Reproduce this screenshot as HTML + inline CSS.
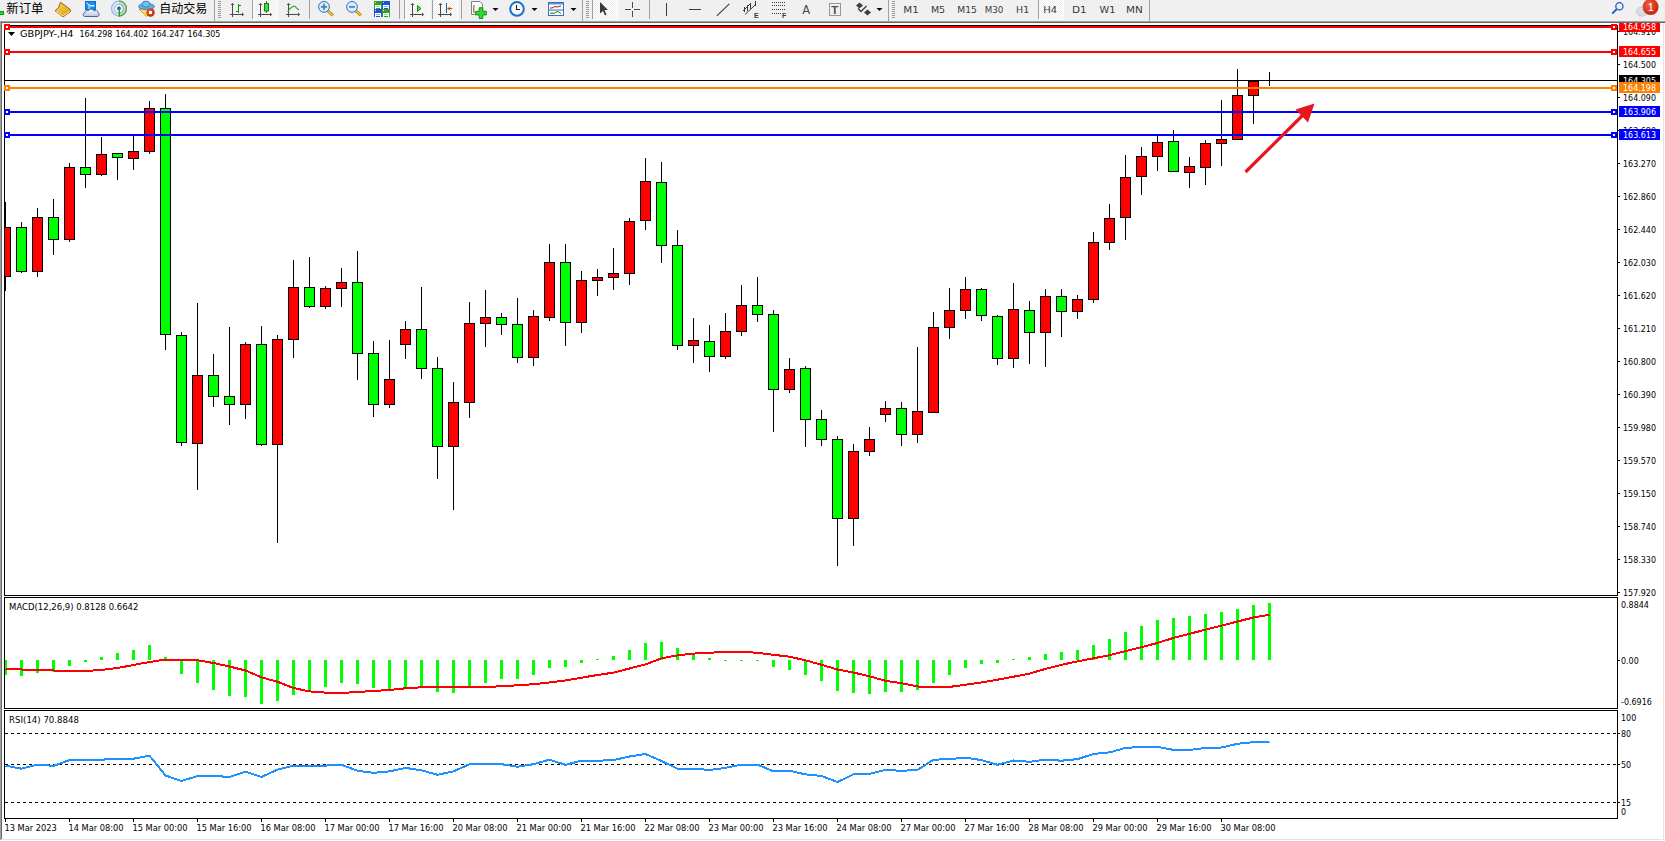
<!DOCTYPE html><html><head><meta charset="utf-8"><title>GBPJPY,H4</title><style>
html,body{margin:0;padding:0}
body{width:1665px;height:841px;overflow:hidden;background:#fff;position:relative;font-family:'Liberation Sans',Arial,sans-serif}
svg{position:absolute;left:0;top:0}
.t{font-family:'DejaVu Sans',sans-serif;font-size:9px;fill:#000}
#tb{position:absolute;left:0;top:0;width:1665px;height:21px;background:#f0f0f0}
</style></head><body>
<svg width="1665" height="841" viewBox="0 0 1665 841">
<defs><clipPath id="cm"><rect x="5" y="26" width="1612" height="569"/></clipPath><clipPath id="cmacd"><rect x="5" y="598" width="1612" height="110"/></clipPath><clipPath id="crsi"><rect x="5" y="711" width="1612" height="107"/></clipPath></defs>
<g shape-rendering="crispEdges">
<rect x="0" y="21" width="1665" height="1" fill="#a0a0a0"/>
<rect x="0" y="22" width="1665" height="1" fill="#696969"/>
<rect x="0" y="21" width="1" height="819" fill="#a0a0a0"/>
<rect x="1" y="22" width="1" height="818" fill="#696969"/>
<rect x="1663" y="23" width="1" height="817" fill="#e3e3e3"/>
<rect x="1" y="839" width="1663" height="1" fill="#e3e3e3"/>
</g>
<g clip-path="url(#cm)" shape-rendering="crispEdges">
<rect x="5" y="202" width="1" height="89" fill="#000"/>
<rect x="0" y="227" width="11" height="50" fill="#000"/>
<rect x="1" y="228" width="9" height="48" fill="#f00"/>
<rect x="21" y="222" width="1" height="51" fill="#000"/>
<rect x="16" y="227" width="11" height="45" fill="#000"/>
<rect x="17" y="228" width="9" height="43" fill="#0f0"/>
<rect x="37" y="208" width="1" height="69" fill="#000"/>
<rect x="32" y="217" width="11" height="55" fill="#000"/>
<rect x="33" y="218" width="9" height="53" fill="#f00"/>
<rect x="53" y="199" width="1" height="56" fill="#000"/>
<rect x="48" y="217" width="11" height="23" fill="#000"/>
<rect x="49" y="218" width="9" height="21" fill="#0f0"/>
<rect x="69" y="163" width="1" height="79" fill="#000"/>
<rect x="64" y="167" width="11" height="73" fill="#000"/>
<rect x="65" y="168" width="9" height="71" fill="#f00"/>
<rect x="85" y="98" width="1" height="90" fill="#000"/>
<rect x="80" y="167" width="11" height="8" fill="#000"/>
<rect x="81" y="168" width="9" height="6" fill="#0f0"/>
<rect x="101" y="137" width="1" height="39" fill="#000"/>
<rect x="96" y="154" width="11" height="21" fill="#000"/>
<rect x="97" y="155" width="9" height="19" fill="#f00"/>
<rect x="117" y="153" width="1" height="27" fill="#000"/>
<rect x="112" y="153" width="11" height="5" fill="#000"/>
<rect x="113" y="154" width="9" height="3" fill="#0f0"/>
<rect x="133" y="135" width="1" height="35" fill="#000"/>
<rect x="128" y="151" width="11" height="8" fill="#000"/>
<rect x="129" y="152" width="9" height="6" fill="#f00"/>
<rect x="149" y="101" width="1" height="53" fill="#000"/>
<rect x="144" y="108" width="11" height="44" fill="#000"/>
<rect x="145" y="109" width="9" height="42" fill="#f00"/>
<rect x="165" y="94" width="1" height="256" fill="#000"/>
<rect x="160" y="108" width="11" height="227" fill="#000"/>
<rect x="161" y="109" width="9" height="225" fill="#0f0"/>
<rect x="181" y="332" width="1" height="114" fill="#000"/>
<rect x="176" y="335" width="11" height="108" fill="#000"/>
<rect x="177" y="336" width="9" height="106" fill="#0f0"/>
<rect x="197" y="303" width="1" height="187" fill="#000"/>
<rect x="192" y="375" width="11" height="69" fill="#000"/>
<rect x="193" y="376" width="9" height="67" fill="#f00"/>
<rect x="213" y="354" width="1" height="53" fill="#000"/>
<rect x="208" y="375" width="11" height="22" fill="#000"/>
<rect x="209" y="376" width="9" height="20" fill="#0f0"/>
<rect x="229" y="327" width="1" height="98" fill="#000"/>
<rect x="224" y="396" width="11" height="9" fill="#000"/>
<rect x="225" y="397" width="9" height="7" fill="#0f0"/>
<rect x="245" y="342" width="1" height="77" fill="#000"/>
<rect x="240" y="344" width="11" height="61" fill="#000"/>
<rect x="241" y="345" width="9" height="59" fill="#f00"/>
<rect x="261" y="326" width="1" height="120" fill="#000"/>
<rect x="256" y="344" width="11" height="101" fill="#000"/>
<rect x="257" y="345" width="9" height="99" fill="#0f0"/>
<rect x="277" y="335" width="1" height="208" fill="#000"/>
<rect x="272" y="339" width="11" height="106" fill="#000"/>
<rect x="273" y="340" width="9" height="104" fill="#f00"/>
<rect x="293" y="260" width="1" height="98" fill="#000"/>
<rect x="288" y="287" width="11" height="53" fill="#000"/>
<rect x="289" y="288" width="9" height="51" fill="#f00"/>
<rect x="309" y="257" width="1" height="51" fill="#000"/>
<rect x="304" y="287" width="11" height="20" fill="#000"/>
<rect x="305" y="288" width="9" height="18" fill="#0f0"/>
<rect x="325" y="286" width="1" height="23" fill="#000"/>
<rect x="320" y="288" width="11" height="19" fill="#000"/>
<rect x="321" y="289" width="9" height="17" fill="#f00"/>
<rect x="341" y="268" width="1" height="39" fill="#000"/>
<rect x="336" y="282" width="11" height="7" fill="#000"/>
<rect x="337" y="283" width="9" height="5" fill="#f00"/>
<rect x="357" y="251" width="1" height="129" fill="#000"/>
<rect x="352" y="282" width="11" height="72" fill="#000"/>
<rect x="353" y="283" width="9" height="70" fill="#0f0"/>
<rect x="373" y="341" width="1" height="76" fill="#000"/>
<rect x="368" y="353" width="11" height="52" fill="#000"/>
<rect x="369" y="354" width="9" height="50" fill="#0f0"/>
<rect x="389" y="340" width="1" height="68" fill="#000"/>
<rect x="384" y="379" width="11" height="26" fill="#000"/>
<rect x="385" y="380" width="9" height="24" fill="#f00"/>
<rect x="405" y="321" width="1" height="38" fill="#000"/>
<rect x="400" y="329" width="11" height="16" fill="#000"/>
<rect x="401" y="330" width="9" height="14" fill="#f00"/>
<rect x="421" y="287" width="1" height="92" fill="#000"/>
<rect x="416" y="329" width="11" height="40" fill="#000"/>
<rect x="417" y="330" width="9" height="38" fill="#0f0"/>
<rect x="437" y="357" width="1" height="122" fill="#000"/>
<rect x="432" y="368" width="11" height="79" fill="#000"/>
<rect x="433" y="369" width="9" height="77" fill="#0f0"/>
<rect x="453" y="382" width="1" height="128" fill="#000"/>
<rect x="448" y="402" width="11" height="45" fill="#000"/>
<rect x="449" y="403" width="9" height="43" fill="#f00"/>
<rect x="469" y="302" width="1" height="116" fill="#000"/>
<rect x="464" y="323" width="11" height="80" fill="#000"/>
<rect x="465" y="324" width="9" height="78" fill="#f00"/>
<rect x="485" y="290" width="1" height="57" fill="#000"/>
<rect x="480" y="317" width="11" height="7" fill="#000"/>
<rect x="481" y="318" width="9" height="5" fill="#f00"/>
<rect x="501" y="313" width="1" height="22" fill="#000"/>
<rect x="496" y="317" width="11" height="8" fill="#000"/>
<rect x="497" y="318" width="9" height="6" fill="#0f0"/>
<rect x="517" y="298" width="1" height="65" fill="#000"/>
<rect x="512" y="324" width="11" height="34" fill="#000"/>
<rect x="513" y="325" width="9" height="32" fill="#0f0"/>
<rect x="533" y="310" width="1" height="56" fill="#000"/>
<rect x="528" y="316" width="11" height="42" fill="#000"/>
<rect x="529" y="317" width="9" height="40" fill="#f00"/>
<rect x="549" y="244" width="1" height="77" fill="#000"/>
<rect x="544" y="262" width="11" height="56" fill="#000"/>
<rect x="545" y="263" width="9" height="54" fill="#f00"/>
<rect x="565" y="244" width="1" height="102" fill="#000"/>
<rect x="560" y="262" width="11" height="61" fill="#000"/>
<rect x="561" y="263" width="9" height="59" fill="#0f0"/>
<rect x="581" y="271" width="1" height="62" fill="#000"/>
<rect x="576" y="280" width="11" height="43" fill="#000"/>
<rect x="577" y="281" width="9" height="41" fill="#f00"/>
<rect x="597" y="269" width="1" height="27" fill="#000"/>
<rect x="592" y="277" width="11" height="4" fill="#000"/>
<rect x="593" y="278" width="9" height="2" fill="#f00"/>
<rect x="613" y="248" width="1" height="42" fill="#000"/>
<rect x="608" y="273" width="11" height="5" fill="#000"/>
<rect x="609" y="274" width="9" height="3" fill="#f00"/>
<rect x="629" y="218" width="1" height="67" fill="#000"/>
<rect x="624" y="221" width="11" height="53" fill="#000"/>
<rect x="625" y="222" width="9" height="51" fill="#f00"/>
<rect x="645" y="158" width="1" height="72" fill="#000"/>
<rect x="640" y="181" width="11" height="40" fill="#000"/>
<rect x="641" y="182" width="9" height="38" fill="#f00"/>
<rect x="661" y="162" width="1" height="101" fill="#000"/>
<rect x="656" y="182" width="11" height="64" fill="#000"/>
<rect x="657" y="183" width="9" height="62" fill="#0f0"/>
<rect x="677" y="230" width="1" height="120" fill="#000"/>
<rect x="672" y="245" width="11" height="101" fill="#000"/>
<rect x="673" y="246" width="9" height="99" fill="#0f0"/>
<rect x="693" y="318" width="1" height="45" fill="#000"/>
<rect x="688" y="340" width="11" height="6" fill="#000"/>
<rect x="689" y="341" width="9" height="4" fill="#f00"/>
<rect x="709" y="325" width="1" height="47" fill="#000"/>
<rect x="704" y="341" width="11" height="16" fill="#000"/>
<rect x="705" y="342" width="9" height="14" fill="#0f0"/>
<rect x="725" y="313" width="1" height="46" fill="#000"/>
<rect x="720" y="331" width="11" height="26" fill="#000"/>
<rect x="721" y="332" width="9" height="24" fill="#f00"/>
<rect x="741" y="285" width="1" height="51" fill="#000"/>
<rect x="736" y="305" width="11" height="27" fill="#000"/>
<rect x="737" y="306" width="9" height="25" fill="#f00"/>
<rect x="757" y="277" width="1" height="45" fill="#000"/>
<rect x="752" y="305" width="11" height="10" fill="#000"/>
<rect x="753" y="306" width="9" height="8" fill="#0f0"/>
<rect x="773" y="310" width="1" height="122" fill="#000"/>
<rect x="768" y="314" width="11" height="76" fill="#000"/>
<rect x="769" y="315" width="9" height="74" fill="#0f0"/>
<rect x="789" y="358" width="1" height="35" fill="#000"/>
<rect x="784" y="369" width="11" height="21" fill="#000"/>
<rect x="785" y="370" width="9" height="19" fill="#f00"/>
<rect x="805" y="366" width="1" height="81" fill="#000"/>
<rect x="800" y="368" width="11" height="52" fill="#000"/>
<rect x="801" y="369" width="9" height="50" fill="#0f0"/>
<rect x="821" y="410" width="1" height="36" fill="#000"/>
<rect x="816" y="419" width="11" height="21" fill="#000"/>
<rect x="817" y="420" width="9" height="19" fill="#0f0"/>
<rect x="837" y="436" width="1" height="130" fill="#000"/>
<rect x="832" y="439" width="11" height="80" fill="#000"/>
<rect x="833" y="440" width="9" height="78" fill="#0f0"/>
<rect x="853" y="444" width="1" height="102" fill="#000"/>
<rect x="848" y="451" width="11" height="68" fill="#000"/>
<rect x="849" y="452" width="9" height="66" fill="#f00"/>
<rect x="869" y="427" width="1" height="29" fill="#000"/>
<rect x="864" y="439" width="11" height="13" fill="#000"/>
<rect x="865" y="440" width="9" height="11" fill="#f00"/>
<rect x="885" y="401" width="1" height="21" fill="#000"/>
<rect x="880" y="408" width="11" height="7" fill="#000"/>
<rect x="881" y="409" width="9" height="5" fill="#f00"/>
<rect x="901" y="402" width="1" height="44" fill="#000"/>
<rect x="896" y="408" width="11" height="27" fill="#000"/>
<rect x="897" y="409" width="9" height="25" fill="#0f0"/>
<rect x="917" y="347" width="1" height="96" fill="#000"/>
<rect x="912" y="411" width="11" height="24" fill="#000"/>
<rect x="913" y="412" width="9" height="22" fill="#f00"/>
<rect x="933" y="312" width="1" height="101" fill="#000"/>
<rect x="928" y="327" width="11" height="86" fill="#000"/>
<rect x="929" y="328" width="9" height="84" fill="#f00"/>
<rect x="949" y="288" width="1" height="51" fill="#000"/>
<rect x="944" y="310" width="11" height="18" fill="#000"/>
<rect x="945" y="311" width="9" height="16" fill="#f00"/>
<rect x="965" y="277" width="1" height="42" fill="#000"/>
<rect x="960" y="289" width="11" height="22" fill="#000"/>
<rect x="961" y="290" width="9" height="20" fill="#f00"/>
<rect x="981" y="288" width="1" height="33" fill="#000"/>
<rect x="976" y="289" width="11" height="27" fill="#000"/>
<rect x="977" y="290" width="9" height="25" fill="#0f0"/>
<rect x="997" y="315" width="1" height="50" fill="#000"/>
<rect x="992" y="316" width="11" height="43" fill="#000"/>
<rect x="993" y="317" width="9" height="41" fill="#0f0"/>
<rect x="1013" y="283" width="1" height="85" fill="#000"/>
<rect x="1008" y="309" width="11" height="50" fill="#000"/>
<rect x="1009" y="310" width="9" height="48" fill="#f00"/>
<rect x="1029" y="301" width="1" height="63" fill="#000"/>
<rect x="1024" y="310" width="11" height="23" fill="#000"/>
<rect x="1025" y="311" width="9" height="21" fill="#0f0"/>
<rect x="1045" y="289" width="1" height="78" fill="#000"/>
<rect x="1040" y="296" width="11" height="37" fill="#000"/>
<rect x="1041" y="297" width="9" height="35" fill="#f00"/>
<rect x="1061" y="289" width="1" height="48" fill="#000"/>
<rect x="1056" y="296" width="11" height="16" fill="#000"/>
<rect x="1057" y="297" width="9" height="14" fill="#0f0"/>
<rect x="1077" y="295" width="1" height="24" fill="#000"/>
<rect x="1072" y="299" width="11" height="13" fill="#000"/>
<rect x="1073" y="300" width="9" height="11" fill="#f00"/>
<rect x="1093" y="232" width="1" height="71" fill="#000"/>
<rect x="1088" y="242" width="11" height="58" fill="#000"/>
<rect x="1089" y="243" width="9" height="56" fill="#f00"/>
<rect x="1109" y="204" width="1" height="46" fill="#000"/>
<rect x="1104" y="218" width="11" height="25" fill="#000"/>
<rect x="1105" y="219" width="9" height="23" fill="#f00"/>
<rect x="1125" y="155" width="1" height="85" fill="#000"/>
<rect x="1120" y="177" width="11" height="41" fill="#000"/>
<rect x="1121" y="178" width="9" height="39" fill="#f00"/>
<rect x="1141" y="147" width="1" height="48" fill="#000"/>
<rect x="1136" y="156" width="11" height="21" fill="#000"/>
<rect x="1137" y="157" width="9" height="19" fill="#f00"/>
<rect x="1157" y="136" width="1" height="35" fill="#000"/>
<rect x="1152" y="142" width="11" height="15" fill="#000"/>
<rect x="1153" y="143" width="9" height="13" fill="#f00"/>
<rect x="1173" y="130" width="1" height="42" fill="#000"/>
<rect x="1168" y="141" width="11" height="31" fill="#000"/>
<rect x="1169" y="142" width="9" height="29" fill="#0f0"/>
<rect x="1189" y="157" width="1" height="31" fill="#000"/>
<rect x="1184" y="166" width="11" height="7" fill="#000"/>
<rect x="1185" y="167" width="9" height="5" fill="#f00"/>
<rect x="1205" y="140" width="1" height="45" fill="#000"/>
<rect x="1200" y="143" width="11" height="25" fill="#000"/>
<rect x="1201" y="144" width="9" height="23" fill="#f00"/>
<rect x="1221" y="100" width="1" height="66" fill="#000"/>
<rect x="1216" y="139" width="11" height="5" fill="#000"/>
<rect x="1217" y="140" width="9" height="3" fill="#f00"/>
<rect x="1237" y="69" width="1" height="71" fill="#000"/>
<rect x="1232" y="95" width="11" height="45" fill="#000"/>
<rect x="1233" y="96" width="9" height="43" fill="#f00"/>
<rect x="1253" y="81" width="1" height="43" fill="#000"/>
<rect x="1248" y="81" width="11" height="15" fill="#000"/>
<rect x="1249" y="82" width="9" height="13" fill="#f00"/>
<rect x="1269" y="72" width="1" height="14" fill="#000"/>
<rect x="1264" y="80" width="11" height="1" fill="#000"/>
</g>
<g shape-rendering="crispEdges">
<rect x="5" y="80" width="1612" height="1" fill="#000"/>
<rect x="5" y="26" width="1612" height="2" fill="#f00"/>
<rect x="5" y="51" width="1612" height="2" fill="#f00"/>
<rect x="5" y="87" width="1612" height="2" fill="#ff8000"/>
<rect x="5" y="111" width="1612" height="2" fill="#00f"/>
<rect x="5" y="134" width="1612" height="2" fill="#00f"/>
</g>
<g fill="#e8141e" stroke="none">
<line x1="1245.5" y1="172" x2="1304" y2="114" stroke="#e8141e" stroke-width="3.2"/>
<polygon points="1295.5,109.5 1314.5,103.5 1308,122.5"/>
</g>
<g clip-path="url(#cmacd)" shape-rendering="crispEdges">
<rect x="4" y="660" width="3" height="15" fill="#0f0"/>
<rect x="20" y="660" width="3" height="16" fill="#0f0"/>
<rect x="36" y="660" width="3" height="13" fill="#0f0"/>
<rect x="52" y="660" width="3" height="12" fill="#0f0"/>
<rect x="68" y="660" width="3" height="6" fill="#0f0"/>
<rect x="84" y="660" width="3" height="2" fill="#0f0"/>
<rect x="100" y="657" width="3" height="3" fill="#0f0"/>
<rect x="116" y="653" width="3" height="7" fill="#0f0"/>
<rect x="132" y="650" width="3" height="10" fill="#0f0"/>
<rect x="148" y="645" width="3" height="15" fill="#0f0"/>
<rect x="164" y="657" width="3" height="3" fill="#0f0"/>
<rect x="180" y="660" width="3" height="14" fill="#0f0"/>
<rect x="196" y="660" width="3" height="23" fill="#0f0"/>
<rect x="212" y="660" width="3" height="30" fill="#0f0"/>
<rect x="228" y="660" width="3" height="36" fill="#0f0"/>
<rect x="244" y="660" width="3" height="37" fill="#0f0"/>
<rect x="260" y="660" width="3" height="44" fill="#0f0"/>
<rect x="276" y="660" width="3" height="41" fill="#0f0"/>
<rect x="292" y="660" width="3" height="35" fill="#0f0"/>
<rect x="308" y="660" width="3" height="32" fill="#0f0"/>
<rect x="324" y="660" width="3" height="27" fill="#0f0"/>
<rect x="340" y="660" width="3" height="23" fill="#0f0"/>
<rect x="356" y="660" width="3" height="24" fill="#0f0"/>
<rect x="372" y="660" width="3" height="28" fill="#0f0"/>
<rect x="388" y="660" width="3" height="29" fill="#0f0"/>
<rect x="404" y="660" width="3" height="27" fill="#0f0"/>
<rect x="420" y="660" width="3" height="27" fill="#0f0"/>
<rect x="436" y="660" width="3" height="32" fill="#0f0"/>
<rect x="452" y="660" width="3" height="33" fill="#0f0"/>
<rect x="468" y="660" width="3" height="26" fill="#0f0"/>
<rect x="484" y="660" width="3" height="23" fill="#0f0"/>
<rect x="500" y="660" width="3" height="19" fill="#0f0"/>
<rect x="516" y="660" width="3" height="19" fill="#0f0"/>
<rect x="532" y="660" width="3" height="15" fill="#0f0"/>
<rect x="548" y="660" width="3" height="8" fill="#0f0"/>
<rect x="564" y="660" width="3" height="7" fill="#0f0"/>
<rect x="580" y="660" width="3" height="3" fill="#0f0"/>
<rect x="596" y="659" width="3" height="1" fill="#0f0"/>
<rect x="612" y="656" width="3" height="4" fill="#0f0"/>
<rect x="628" y="650" width="3" height="10" fill="#0f0"/>
<rect x="644" y="643" width="3" height="17" fill="#0f0"/>
<rect x="660" y="642" width="3" height="18" fill="#0f0"/>
<rect x="676" y="648" width="3" height="12" fill="#0f0"/>
<rect x="692" y="653" width="3" height="7" fill="#0f0"/>
<rect x="708" y="658" width="3" height="2" fill="#0f0"/>
<rect x="724" y="660" width="3" height="1" fill="#0f0"/>
<rect x="740" y="660" width="3" height="1" fill="#0f0"/>
<rect x="756" y="660" width="3" height="1" fill="#0f0"/>
<rect x="772" y="660" width="3" height="7" fill="#0f0"/>
<rect x="788" y="660" width="3" height="10" fill="#0f0"/>
<rect x="804" y="660" width="3" height="15" fill="#0f0"/>
<rect x="820" y="660" width="3" height="21" fill="#0f0"/>
<rect x="836" y="660" width="3" height="31" fill="#0f0"/>
<rect x="852" y="660" width="3" height="33" fill="#0f0"/>
<rect x="868" y="660" width="3" height="34" fill="#0f0"/>
<rect x="884" y="660" width="3" height="32" fill="#0f0"/>
<rect x="900" y="660" width="3" height="32" fill="#0f0"/>
<rect x="916" y="660" width="3" height="30" fill="#0f0"/>
<rect x="932" y="660" width="3" height="23" fill="#0f0"/>
<rect x="948" y="660" width="3" height="15" fill="#0f0"/>
<rect x="964" y="660" width="3" height="8" fill="#0f0"/>
<rect x="980" y="660" width="3" height="4" fill="#0f0"/>
<rect x="996" y="660" width="3" height="3" fill="#0f0"/>
<rect x="1012" y="659" width="3" height="1" fill="#0f0"/>
<rect x="1028" y="657" width="3" height="3" fill="#0f0"/>
<rect x="1044" y="654" width="3" height="6" fill="#0f0"/>
<rect x="1060" y="652" width="3" height="8" fill="#0f0"/>
<rect x="1076" y="650" width="3" height="10" fill="#0f0"/>
<rect x="1092" y="645" width="3" height="15" fill="#0f0"/>
<rect x="1108" y="639" width="3" height="21" fill="#0f0"/>
<rect x="1124" y="632" width="3" height="28" fill="#0f0"/>
<rect x="1140" y="626" width="3" height="34" fill="#0f0"/>
<rect x="1156" y="620" width="3" height="40" fill="#0f0"/>
<rect x="1172" y="618" width="3" height="42" fill="#0f0"/>
<rect x="1188" y="616" width="3" height="44" fill="#0f0"/>
<rect x="1204" y="614" width="3" height="46" fill="#0f0"/>
<rect x="1220" y="612" width="3" height="48" fill="#0f0"/>
<rect x="1236" y="609" width="3" height="51" fill="#0f0"/>
<rect x="1252" y="605" width="3" height="55" fill="#0f0"/>
<rect x="1268" y="603" width="3" height="57" fill="#0f0"/>
<polyline points="5.5,669 21.5,669.5 37.5,670 53.5,670.5 69.5,671 85.5,671 101.5,670 117.5,668 133.5,665 149.5,662 165.5,659.5 181.5,659.5 197.5,660.3 213.5,663 229.5,666.5 245.5,670.5 261.5,677.3 277.5,681.8 293.5,688 309.5,691.4 325.5,692.6 341.5,693 357.5,692 373.5,691 389.5,690 405.5,688.3 421.5,687.3 437.5,686.9 453.5,686.9 469.5,686.9 485.5,686.9 501.5,686.3 517.5,685.3 533.5,684.2 549.5,682.4 565.5,680.4 581.5,677.7 597.5,675 613.5,672.6 629.5,668.5 645.5,664.4 661.5,658.3 677.5,655.4 693.5,653.6 709.5,652.8 725.5,651.8 741.5,651.8 757.5,652.8 773.5,654.8 789.5,656.7 805.5,660.3 821.5,664.8 837.5,669.5 853.5,672.6 869.5,676.3 885.5,680.8 901.5,683.2 917.5,686.5 933.5,686.9 949.5,686.9 965.5,684.8 981.5,682.4 997.5,679.7 1013.5,676.7 1029.5,673.6 1045.5,668.9 1061.5,664.8 1077.5,661.4 1093.5,658.3 1109.5,655.2 1125.5,651.2 1141.5,647.1 1157.5,643 1173.5,637.9 1189.5,633.8 1205.5,629.7 1221.5,625.6 1237.5,621.5 1253.5,617.5 1269.5,614.8" fill="none" stroke="#f00" stroke-width="2"/>
</g>
<g shape-rendering="crispEdges">
<line x1="5" y1="733.5" x2="1617" y2="733.5" stroke="#000" stroke-width="1" stroke-dasharray="3,3"/>
<line x1="5" y1="764.5" x2="1617" y2="764.5" stroke="#000" stroke-width="1" stroke-dasharray="3,3"/>
<line x1="5" y1="802.5" x2="1617" y2="802.5" stroke="#000" stroke-width="1" stroke-dasharray="3,3"/>
</g>
<g clip-path="url(#crsi)"><polyline points="5.5,765.6 21.5,768.7 37.5,764.6 53.5,765.9 69.5,760.1 85.5,759.7 101.5,759.7 117.5,758.7 133.5,758.7 149.5,755.6 165.5,775.5 181.5,781 197.5,776 213.5,776 229.5,776.9 245.5,771.8 261.5,776.9 277.5,769.7 293.5,765.6 309.5,765.6 325.5,765.6 341.5,764.8 357.5,770.8 373.5,772.8 389.5,771.4 405.5,767.9 421.5,770.3 437.5,774.8 453.5,771.4 469.5,764.2 485.5,764.2 501.5,764.2 517.5,766.7 533.5,764.2 549.5,759.7 565.5,764.8 581.5,760.7 597.5,760.7 613.5,760.1 629.5,756.5 645.5,754 661.5,761 677.5,768.7 693.5,768.7 709.5,769.9 725.5,767.9 741.5,764.6 757.5,764.6 773.5,771.4 789.5,770.8 805.5,774.4 821.5,776 837.5,782 853.5,774.4 869.5,773.8 885.5,769.9 901.5,770.8 917.5,769.9 933.5,759.7 949.5,759.1 965.5,757.7 981.5,760.1 997.5,764.8 1013.5,760.5 1029.5,761.8 1045.5,759.7 1061.5,760.7 1077.5,759.1 1093.5,754 1109.5,752.4 1125.5,747.9 1141.5,746.9 1157.5,746.9 1173.5,749.9 1189.5,749.9 1205.5,747.9 1221.5,747.5 1237.5,743.8 1253.5,742.2 1269.5,741.8" fill="none" stroke="#1e90ff" stroke-width="2" shape-rendering="crispEdges"/></g>
<g shape-rendering="crispEdges" fill="#000">
<rect x="4" y="25" width="1614" height="1"/>
<rect x="4" y="25" width="1" height="571"/>
<rect x="4" y="595" width="1614" height="1"/>
<rect x="1617" y="25" width="1" height="571"/>
<rect x="4" y="597" width="1614" height="1"/>
<rect x="4" y="597" width="1" height="112"/>
<rect x="4" y="708" width="1614" height="1"/>
<rect x="1617" y="597" width="1" height="112"/>
<rect x="4" y="710" width="1614" height="1"/>
<rect x="4" y="710" width="1" height="109"/>
<rect x="4" y="818" width="1614" height="1"/>
<rect x="1617" y="710" width="1" height="109"/>
</g>
<g shape-rendering="crispEdges">
<rect x="4" y="24" width="6" height="6" fill="#f00"/>
<rect x="6" y="26" width="2" height="2" fill="#fff"/>
<rect x="1611" y="24" width="6" height="6" fill="#f00"/>
<rect x="1613" y="26" width="2" height="2" fill="#fff"/>
<rect x="4" y="49" width="6" height="6" fill="#f00"/>
<rect x="6" y="51" width="2" height="2" fill="#fff"/>
<rect x="1611" y="49" width="6" height="6" fill="#f00"/>
<rect x="1613" y="51" width="2" height="2" fill="#fff"/>
<rect x="4" y="85" width="6" height="6" fill="#ff8000"/>
<rect x="6" y="87" width="2" height="2" fill="#fff"/>
<rect x="1611" y="85" width="6" height="6" fill="#ff8000"/>
<rect x="1613" y="87" width="2" height="2" fill="#fff"/>
<rect x="4" y="109" width="6" height="6" fill="#00f"/>
<rect x="6" y="111" width="2" height="2" fill="#fff"/>
<rect x="1611" y="109" width="6" height="6" fill="#00f"/>
<rect x="1613" y="111" width="2" height="2" fill="#fff"/>
<rect x="4" y="132" width="6" height="6" fill="#00f"/>
<rect x="6" y="134" width="2" height="2" fill="#fff"/>
<rect x="1611" y="132" width="6" height="6" fill="#00f"/>
<rect x="1613" y="134" width="2" height="2" fill="#fff"/>
</g>
<g shape-rendering="crispEdges" fill="#000">
<rect x="1618" y="31" width="2" height="1"/>
<rect x="1618" y="64" width="2" height="1"/>
<rect x="1618" y="97" width="2" height="1"/>
<rect x="1618" y="130" width="2" height="1"/>
<rect x="1618" y="163" width="2" height="1"/>
<rect x="1618" y="196" width="2" height="1"/>
<rect x="1618" y="229" width="2" height="1"/>
<rect x="1618" y="262" width="2" height="1"/>
<rect x="1618" y="295" width="2" height="1"/>
<rect x="1618" y="328" width="2" height="1"/>
<rect x="1618" y="361" width="2" height="1"/>
<rect x="1618" y="394" width="2" height="1"/>
<rect x="1618" y="427" width="2" height="1"/>
<rect x="1618" y="460" width="2" height="1"/>
<rect x="1618" y="493" width="2" height="1"/>
<rect x="1618" y="526" width="2" height="1"/>
<rect x="1618" y="559" width="2" height="1"/>
<rect x="1618" y="592" width="2" height="1"/>
</g>
<text class="t" transform="translate(1623.00,35.00) scale(0.84,1)" style="font-size:9.5px;">164.910</text>
<text class="t" transform="translate(1623.00,67.98) scale(0.84,1)" style="font-size:9.5px;">164.500</text>
<text class="t" transform="translate(1623.00,100.96) scale(0.84,1)" style="font-size:9.5px;">164.090</text>
<text class="t" transform="translate(1623.00,133.94) scale(0.84,1)" style="font-size:9.5px;">163.680</text>
<text class="t" transform="translate(1623.00,166.92) scale(0.84,1)" style="font-size:9.5px;">163.270</text>
<text class="t" transform="translate(1623.00,199.90) scale(0.84,1)" style="font-size:9.5px;">162.860</text>
<text class="t" transform="translate(1623.00,232.88) scale(0.84,1)" style="font-size:9.5px;">162.440</text>
<text class="t" transform="translate(1623.00,265.86) scale(0.84,1)" style="font-size:9.5px;">162.030</text>
<text class="t" transform="translate(1623.00,298.84) scale(0.84,1)" style="font-size:9.5px;">161.620</text>
<text class="t" transform="translate(1623.00,331.82) scale(0.84,1)" style="font-size:9.5px;">161.210</text>
<text class="t" transform="translate(1623.00,364.80) scale(0.84,1)" style="font-size:9.5px;">160.800</text>
<text class="t" transform="translate(1623.00,397.78) scale(0.84,1)" style="font-size:9.5px;">160.390</text>
<text class="t" transform="translate(1623.00,430.76) scale(0.84,1)" style="font-size:9.5px;">159.980</text>
<text class="t" transform="translate(1623.00,463.74) scale(0.84,1)" style="font-size:9.5px;">159.570</text>
<text class="t" transform="translate(1623.00,496.72) scale(0.84,1)" style="font-size:9.5px;">159.150</text>
<text class="t" transform="translate(1623.00,529.70) scale(0.84,1)" style="font-size:9.5px;">158.740</text>
<text class="t" transform="translate(1623.00,562.68) scale(0.84,1)" style="font-size:9.5px;">158.330</text>
<text class="t" transform="translate(1623.00,595.66) scale(0.84,1)" style="font-size:9.5px;">157.920</text>
<rect x="1619" y="23" width="41" height="9" fill="#f00" shape-rendering="crispEdges"/>
<text class="t" transform="translate(1623.00,30.00) scale(0.84,1)" style="font-size:9.5px;fill:#fff">164.958</text>
<rect x="1619" y="46" width="41" height="11" fill="#f00" shape-rendering="crispEdges"/>
<text class="t" transform="translate(1623.00,55.00) scale(0.84,1)" style="font-size:9.5px;fill:#fff">164.655</text>
<rect x="1619" y="75" width="41" height="11" fill="#000" shape-rendering="crispEdges"/>
<text class="t" transform="translate(1623.00,84.00) scale(0.84,1)" style="font-size:9.5px;fill:#fff">164.305</text>
<rect x="1619" y="82" width="41" height="11" fill="#ff8000" shape-rendering="crispEdges"/>
<text class="t" transform="translate(1623.00,91.00) scale(0.84,1)" style="font-size:9.5px;fill:#fff">164.198</text>
<rect x="1619" y="106" width="41" height="11" fill="#00f" shape-rendering="crispEdges"/>
<text class="t" transform="translate(1623.00,115.00) scale(0.84,1)" style="font-size:9.5px;fill:#fff">163.906</text>
<rect x="1619" y="129" width="41" height="11" fill="#00f" shape-rendering="crispEdges"/>
<text class="t" transform="translate(1623.00,138.00) scale(0.84,1)" style="font-size:9.5px;fill:#fff">163.613</text>
<g shape-rendering="crispEdges" fill="#000"><rect x="1618" y="660" width="2" height="1"/></g>
<text class="t" transform="translate(1621.00,608.00) scale(0.84,1)" style="font-size:9.5px;">0.8844</text>
<text class="t" transform="translate(1621.00,664.30) scale(0.84,1)" style="font-size:9.5px;">0.00</text>
<text class="t" transform="translate(1621.00,705.00) scale(0.84,1)" style="font-size:9.5px;">-0.6916</text>
<g shape-rendering="crispEdges" fill="#000">
<rect x="1618" y="733" width="2" height="1"/>
<rect x="1618" y="764" width="2" height="1"/>
<rect x="1618" y="802" width="2" height="1"/>
</g>
<text class="t" transform="translate(1621.00,721.00) scale(0.84,1)" style="font-size:9.5px;">100</text>
<text class="t" transform="translate(1621.00,737.00) scale(0.84,1)" style="font-size:9.5px;">80</text>
<text class="t" transform="translate(1621.00,768.00) scale(0.84,1)" style="font-size:9.5px;">50</text>
<text class="t" transform="translate(1621.00,806.00) scale(0.84,1)" style="font-size:9.5px;">15</text>
<text class="t" transform="translate(1621.00,815.00) scale(0.84,1)" style="font-size:9.5px;">0</text>
<g shape-rendering="crispEdges" fill="#000">
<rect x="5" y="818" width="1" height="4"/>
<rect x="69" y="818" width="1" height="4"/>
<rect x="133" y="818" width="1" height="4"/>
<rect x="197" y="818" width="1" height="4"/>
<rect x="261" y="818" width="1" height="4"/>
<rect x="325" y="818" width="1" height="4"/>
<rect x="389" y="818" width="1" height="4"/>
<rect x="453" y="818" width="1" height="4"/>
<rect x="517" y="818" width="1" height="4"/>
<rect x="581" y="818" width="1" height="4"/>
<rect x="645" y="818" width="1" height="4"/>
<rect x="709" y="818" width="1" height="4"/>
<rect x="773" y="818" width="1" height="4"/>
<rect x="837" y="818" width="1" height="4"/>
<rect x="901" y="818" width="1" height="4"/>
<rect x="965" y="818" width="1" height="4"/>
<rect x="1029" y="818" width="1" height="4"/>
<rect x="1093" y="818" width="1" height="4"/>
<rect x="1157" y="818" width="1" height="4"/>
<rect x="1221" y="818" width="1" height="4"/>
</g>
<text class="t" transform="translate(4.40,831.00) scale(0.87,1)" style="font-size:9.5px;">13 Mar 2023</text>
<text class="t" transform="translate(68.40,831.00) scale(0.87,1)" style="font-size:9.5px;">14 Mar 08:00</text>
<text class="t" transform="translate(132.40,831.00) scale(0.87,1)" style="font-size:9.5px;">15 Mar 00:00</text>
<text class="t" transform="translate(196.40,831.00) scale(0.87,1)" style="font-size:9.5px;">15 Mar 16:00</text>
<text class="t" transform="translate(260.40,831.00) scale(0.87,1)" style="font-size:9.5px;">16 Mar 08:00</text>
<text class="t" transform="translate(324.40,831.00) scale(0.87,1)" style="font-size:9.5px;">17 Mar 00:00</text>
<text class="t" transform="translate(388.40,831.00) scale(0.87,1)" style="font-size:9.5px;">17 Mar 16:00</text>
<text class="t" transform="translate(452.40,831.00) scale(0.87,1)" style="font-size:9.5px;">20 Mar 08:00</text>
<text class="t" transform="translate(516.40,831.00) scale(0.87,1)" style="font-size:9.5px;">21 Mar 00:00</text>
<text class="t" transform="translate(580.40,831.00) scale(0.87,1)" style="font-size:9.5px;">21 Mar 16:00</text>
<text class="t" transform="translate(644.40,831.00) scale(0.87,1)" style="font-size:9.5px;">22 Mar 08:00</text>
<text class="t" transform="translate(708.40,831.00) scale(0.87,1)" style="font-size:9.5px;">23 Mar 00:00</text>
<text class="t" transform="translate(772.40,831.00) scale(0.87,1)" style="font-size:9.5px;">23 Mar 16:00</text>
<text class="t" transform="translate(836.40,831.00) scale(0.87,1)" style="font-size:9.5px;">24 Mar 08:00</text>
<text class="t" transform="translate(900.40,831.00) scale(0.87,1)" style="font-size:9.5px;">27 Mar 00:00</text>
<text class="t" transform="translate(964.40,831.00) scale(0.87,1)" style="font-size:9.5px;">27 Mar 16:00</text>
<text class="t" transform="translate(1028.40,831.00) scale(0.87,1)" style="font-size:9.5px;">28 Mar 08:00</text>
<text class="t" transform="translate(1092.40,831.00) scale(0.87,1)" style="font-size:9.5px;">29 Mar 00:00</text>
<text class="t" transform="translate(1156.40,831.00) scale(0.87,1)" style="font-size:9.5px;">29 Mar 16:00</text>
<text class="t" transform="translate(1220.40,831.00) scale(0.87,1)" style="font-size:9.5px;">30 Mar 08:00</text>
<polygon points="8,32 15,32 11.5,36" fill="#000"/>
<text class="t" transform="translate(20.00,37.00) scale(1.025,1)" style="font-size:9.5px;">GBPJPY-,H4</text>
<text class="t" transform="translate(79.40,37.00) scale(0.84,1)" style="font-size:9.5px;">164.298</text>
<text class="t" transform="translate(115.40,37.00) scale(0.84,1)" style="font-size:9.5px;">164.402</text>
<text class="t" transform="translate(151.40,37.00) scale(0.84,1)" style="font-size:9.5px;">164.247</text>
<text class="t" transform="translate(187.40,37.00) scale(0.84,1)" style="font-size:9.5px;">164.305</text>
<text class="t" transform="translate(9.10,610.30) scale(0.895,1)" style="font-size:9.5px;">MACD(12,26,9) 0.8128 0.6642</text>
<text class="t" transform="translate(9.10,723.00) scale(0.905,1)" style="font-size:9.5px;">RSI(14) 70.8848</text>
</svg>
<div id="tb">
<svg width="1665" height="21" viewBox="0 0 1665 21" style="position:absolute;left:0;top:0">
<defs>
<pattern id="chk" width="2" height="2" patternUnits="userSpaceOnUse"><rect width="2" height="2" fill="#fff"/><rect width="1" height="1" fill="#ededed"/><rect x="1" y="1" width="1" height="1" fill="#ededed"/></pattern>
<linearGradient id="gold" x1="0" y1="0" x2="1" y2="1"><stop offset="0" stop-color="#f8d858"/><stop offset="1" stop-color="#d89a10"/></linearGradient>
<linearGradient id="cloud" x1="0" y1="0" x2="0" y2="1"><stop offset="0" stop-color="#ffffff"/><stop offset="1" stop-color="#b8c4dc"/></linearGradient>
<radialGradient id="redc" cx="0.4" cy="0.35" r="0.7"><stop offset="0" stop-color="#f06040"/><stop offset="1" stop-color="#c02008"/></radialGradient>
</defs>
<g shape-rendering="crispEdges">
<!-- selected button backgrounds -->
<rect x="253" y="0" width="24" height="20" fill="url(#chk)"/>
<rect x="405" y="0" width="24" height="20" fill="url(#chk)"/>
<rect x="433" y="0" width="24" height="20" fill="url(#chk)"/>
<rect x="593" y="0" width="24" height="20" fill="url(#chk)"/>
<rect x="1039" y="0" width="24" height="20" fill="url(#chk)"/>
<rect x="277" y="0" width="1" height="20" fill="#fff"/><rect x="253" y="19" width="25" height="1" fill="#fff"/><rect x="429" y="0" width="1" height="20" fill="#fff"/><rect x="405" y="19" width="25" height="1" fill="#fff"/><rect x="457" y="0" width="1" height="20" fill="#fff"/><rect x="433" y="19" width="25" height="1" fill="#fff"/><rect x="617" y="0" width="1" height="20" fill="#fff"/><rect x="593" y="19" width="25" height="1" fill="#fff"/><rect x="1063" y="0" width="1" height="20" fill="#fff"/><rect x="1039" y="19" width="25" height="1" fill="#fff"/>
<!-- separators -->
<g fill="#a0a0a0">
<rect x="214" y="0" width="1" height="21"/>
<rect x="252" y="0" width="1" height="19"/>
<rect x="309" y="0" width="1" height="19"/>
<rect x="399" y="0" width="1" height="19"/>
<rect x="404" y="0" width="1" height="19"/>
<rect x="432" y="0" width="1" height="19"/>
<rect x="461" y="0" width="1" height="19"/>
<rect x="582" y="0" width="1" height="21"/>
<rect x="592" y="0" width="1" height="19"/>
<rect x="649" y="0" width="1" height="19"/>
<rect x="888" y="0" width="1" height="21"/>
<rect x="1038" y="0" width="1" height="19"/>
<rect x="1149" y="0" width="1" height="21"/>
</g>
<!-- grips -->
<g fill="#9a9a9a">
<rect x="218" y="1" width="3" height="1"/><rect x="218" y="3" width="3" height="1"/><rect x="218" y="5" width="3" height="1"/><rect x="218" y="7" width="3" height="1"/><rect x="218" y="9" width="3" height="1"/><rect x="218" y="11" width="3" height="1"/><rect x="218" y="13" width="3" height="1"/><rect x="218" y="15" width="3" height="1"/><rect x="218" y="17" width="3" height="1"/>
<rect x="586" y="1" width="3" height="1"/><rect x="586" y="3" width="3" height="1"/><rect x="586" y="5" width="3" height="1"/><rect x="586" y="7" width="3" height="1"/><rect x="586" y="9" width="3" height="1"/><rect x="586" y="11" width="3" height="1"/><rect x="586" y="13" width="3" height="1"/><rect x="586" y="15" width="3" height="1"/><rect x="586" y="17" width="3" height="1"/>
<rect x="892" y="1" width="3" height="1"/><rect x="892" y="3" width="3" height="1"/><rect x="892" y="5" width="3" height="1"/><rect x="892" y="7" width="3" height="1"/><rect x="892" y="9" width="3" height="1"/><rect x="892" y="11" width="3" height="1"/><rect x="892" y="13" width="3" height="1"/><rect x="892" y="15" width="3" height="1"/><rect x="892" y="17" width="3" height="1"/>
</g>
<!-- partial new order icon -->
<rect x="0" y="11" width="4" height="4" fill="#0a9a1a"/><rect x="0" y="12" width="3" height="2" fill="#10e030"/>
</g>

<!-- gold book -->
<polygon points="60.5,2.2 70.2,9.4 70.6,11.5 63,16.9 55.1,10.8 58.7,7.2" fill="url(#gold)" stroke="#a0600c" stroke-width="1"/>
<path d="M56.5,11.5 L63,16 L69.5,11.5" fill="none" stroke="#f6e6a0" stroke-width="1"/>
<!-- blue box + cloud -->
<rect x="85.5" y="1.5" width="10" height="8" fill="#1890f0" stroke="#0a6cd0" stroke-width="1"/>
<rect x="89.5" y="5" width="5" height="1.5" fill="#e8f4ff"/><line x1="86" y1="2.5" x2="89" y2="5" stroke="#d8f0ff" stroke-width="1"/><rect x="88.5" y="4" width="1" height="5" fill="#d8f0ff"/>
<path d="M84.5,16.5 C82.5,16 82.8,13 85,12.7 C85,10.8 87,10.2 88.2,10.8 C89.2,8.6 93.2,8.6 94.2,11.2 C95.2,10 98,10.2 98,12.6 C99.6,13 99.6,16.5 97.5,16.5 Z" fill="url(#cloud)" stroke="#4a64a0" stroke-width="1"/>
<!-- radio -->
<g fill="none" stroke-width="1.3">
<circle cx="119" cy="8.6" r="7.4" stroke="#8fb4e8"/>
<circle cx="119" cy="8.6" r="4.8" stroke="#a8c4ec"/>
<path d="M119,1.2 A7.4,7.4 0 0 1 119,16" stroke="#50a050"/>
<path d="M119,3.8 A4.8,4.8 0 0 1 119,13.4" stroke="#80c080"/>
</g>
<circle cx="119" cy="8.4" r="1.8" fill="#2050c0"/>
<rect x="118.6" y="8.5" width="1.4" height="8" fill="#20a020"/>
<!-- auto trading -->
<polygon points="139,9 153,9 146.5,16.5" fill="#f8e060" stroke="#d0a020" stroke-width="1"/>
<ellipse cx="146.5" cy="6.5" rx="8" ry="3" fill="#60b0e0" stroke="#3088c0" stroke-width="1"/>
<ellipse cx="146" cy="4.2" rx="4" ry="3" fill="#70c0e8" stroke="#3088c0" stroke-width="1"/>
<circle cx="150.5" cy="12.5" r="4.2" fill="url(#redc)"/>
<rect x="149" y="11" width="3" height="3" fill="#fff"/>

<!-- chart type icons: axes -->
<g fill="#4a4a4a" shape-rendering="crispEdges">
<rect x="232" y="4" width="1" height="13"/><rect x="230" y="14" width="12" height="1"/>
<rect x="260" y="4" width="1" height="13"/><rect x="258" y="14" width="12" height="1"/>
<rect x="288" y="4" width="1" height="13"/><rect x="286" y="14" width="12" height="1"/>
<rect x="412" y="4" width="1" height="13"/><rect x="410" y="14" width="12" height="1"/>
<rect x="440" y="4" width="1" height="13"/><rect x="438" y="14" width="12" height="1"/>
</g>
<g fill="#4a4a4a">
<polygon points="230.5,5 232.5,3 234.5,5"/><polygon points="242,12.5 244,14.5 242,16.5"/>
<polygon points="258.5,5 260.5,3 262.5,5"/><polygon points="270,12.5 272,14.5 270,16.5"/>
<polygon points="286.5,5 288.5,3 290.5,5"/><polygon points="298,12.5 300,14.5 298,16.5"/>
<polygon points="410.5,5 412.5,3 414.5,5"/><polygon points="422,12.5 424,14.5 422,16.5"/>
<polygon points="438.5,5 440.5,3 442.5,5"/><polygon points="450,12.5 452,14.5 450,16.5"/>
</g>
<!-- bar chart green -->
<g fill="#109010" shape-rendering="crispEdges">
<rect x="238" y="4" width="1" height="9"/><rect x="236" y="11" width="2" height="1"/><rect x="239" y="5" width="2" height="1"/>
</g>
<!-- candle -->
<rect x="266" y="1" width="1" height="12" fill="#108010" shape-rendering="crispEdges"/>
<rect x="264.5" y="3.5" width="4" height="7.5" fill="#40e040" stroke="#108010" stroke-width="1"/>
<!-- line chart curve -->
<path d="M287.5,11.5 Q290.5,7.5 293.2,6.2 Q295.5,5.8 297,8.5 L299,10" fill="none" stroke="#30a030" stroke-width="1.1"/>
<!-- autoscroll triangle -->
<polygon points="417.5,5.5 421,8.5 417.5,11.5" fill="#50d050" stroke="#109010" stroke-width="1"/>
<!-- chart shift -->
<rect x="446" y="3" width="1" height="10" fill="#1060a0" shape-rendering="crispEdges"/>
<polygon points="447,8.6 450.6,6.4 449.8,8.1 452.2,8.1 452.2,9.1 449.8,9.1 450.6,10.8" fill="#d84800"/>
<!-- zoom in/out -->
<g>
<line x1="327.5" y1="10.5" x2="333" y2="15.5" stroke="#a07808" stroke-width="3"/>
<line x1="327.5" y1="10.5" x2="333" y2="15.5" stroke="#e8d040" stroke-width="1.6"/>
<circle cx="324" cy="6.9" r="5.4" fill="#dcecf8" stroke="#2a70c0" stroke-width="1"/>
<rect x="321" y="6" width="6" height="1.8" fill="#4a88b0"/><rect x="323.1" y="3.9" width="1.8" height="6" fill="#4a88b0"/>
<line x1="355.5" y1="10.5" x2="361" y2="15.5" stroke="#a07808" stroke-width="3"/>
<line x1="355.5" y1="10.5" x2="361" y2="15.5" stroke="#e8d040" stroke-width="1.6"/>
<circle cx="352" cy="6.9" r="5.4" fill="#dcecf8" stroke="#2a70c0" stroke-width="1"/>
<rect x="349" y="6" width="6" height="1.8" fill="#4a88b0"/>
</g>
<!-- tile windows -->
<g shape-rendering="crispEdges">
<rect x="374" y="1" width="8" height="8" fill="#32a020"/><rect x="375" y="2" width="1" height="1" fill="#e0f0e0"/><rect x="375" y="5" width="6" height="3" fill="#fff"/><rect x="376" y="6" width="4" height="1" fill="#a8e098"/><rect x="375" y="8" width="1" height="1" fill="#fff"/><rect x="380" y="8" width="1" height="1" fill="#fff"/>
<rect x="382" y="1" width="8" height="8" fill="#1c50d8"/><rect x="383" y="2" width="1" height="1" fill="#e0f0e0"/><rect x="383" y="5" width="6" height="3" fill="#fff"/><rect x="384" y="6" width="4" height="1" fill="#98b4f0"/><rect x="383" y="8" width="1" height="1" fill="#fff"/><rect x="388" y="8" width="1" height="1" fill="#fff"/>
<rect x="374" y="9" width="8" height="8" fill="#1c50d8"/><rect x="375" y="10" width="1" height="1" fill="#e0f0e0"/><rect x="375" y="13" width="6" height="3" fill="#fff"/><rect x="376" y="14" width="4" height="1" fill="#98b4f0"/><rect x="375" y="16" width="1" height="1" fill="#fff"/><rect x="380" y="16" width="1" height="1" fill="#fff"/>
<rect x="382" y="9" width="8" height="8" fill="#32a020"/><rect x="383" y="10" width="1" height="1" fill="#e0f0e0"/><rect x="383" y="13" width="6" height="3" fill="#fff"/><rect x="384" y="14" width="4" height="1" fill="#a8e098"/><rect x="383" y="16" width="1" height="1" fill="#fff"/><rect x="388" y="16" width="1" height="1" fill="#fff"/>
</g>
<!-- new chart -->
<path d="M471.5,1.5 H480 L482.5,4 V14.5 H471.5 Z" fill="#fafafa" stroke="#808080" stroke-width="1"/>
<path d="M474,5 Q473.5,9 474,13" fill="none" stroke="#705020" stroke-width="1"/>
<path d="M479.2,7.8 H482.8 V11.3 H486.3 V14.9 H482.8 V18.4 H479.2 V14.9 H475.7 V11.3 H479.2 Z" fill="#30d838" stroke="#109018" stroke-width="1"/>
<!-- dropdown triangles -->
<g fill="#000"><polygon points="492.5,8 498.5,8 495.5,11"/><polygon points="531.5,8 537.5,8 534.5,11"/><polygon points="570.5,8 576.5,8 573.5,11"/><polygon points="876.5,8 882.5,8 879.5,11"/></g>
<!-- clock -->
<circle cx="517" cy="8.9" r="6.8" fill="#f8f8f8" stroke="#1a6ed0" stroke-width="2"/>
<path d="M516.5,5 V9.5 H520" fill="none" stroke="#202020" stroke-width="1.1"/>
<!-- indicators -->
<rect x="548.5" y="2.5" width="15" height="13" fill="#fff" stroke="#3a6cc0" stroke-width="1"/>
<rect x="549" y="3" width="14" height="1.5" fill="#6090d8"/>
<rect x="549" y="9.5" width="14" height="1" fill="#3a6cc0"/>
<polyline points="550,8 552,8 554,7 555,6.5 557,7 559,6.5 561,6" fill="none" stroke="#a02010" stroke-width="1"/>
<polyline points="550,13.5 552,13 554,13.5 556,12 558,11.5 560,13 561,13.5" fill="none" stroke="#108010" stroke-width="1"/>
<!-- cursor -->
<polygon points="600,2 608,10 604.5,10 606.5,14.5 605,15.5 603,11 600,13.5" fill="#3a3a3a"/>
<!-- crosshair -->
<g fill="#4a4a4a" shape-rendering="crispEdges"><rect x="632" y="2" width="1" height="6"/><rect x="632" y="11" width="1" height="6"/><rect x="625" y="9" width="6" height="1"/><rect x="634" y="9" width="6" height="1"/></g>
<!-- vline, hline, trend -->
<g fill="#3a3a3a" shape-rendering="crispEdges"><rect x="666" y="3" width="1.3" height="13"/><rect x="689" y="9" width="12" height="1.3"/></g>
<line x1="716.8" y1="15.8" x2="729.3" y2="3.8" stroke="#3a3a3a" stroke-width="1.1"/>
<!-- channel E -->
<g stroke="#3a3a3a" stroke-width="1" fill="none">
<line x1="743" y1="11" x2="751" y2="3"/><line x1="745" y1="14.5" x2="755" y2="5"/>
<line x1="744.5" y1="7" x2="744.5" y2="12"/><line x1="747.5" y1="5" x2="747.5" y2="11"/><line x1="750.5" y1="3" x2="750.5" y2="9"/><line x1="755.5" y1="1" x2="755.5" y2="6"/>
</g>
<text x="754" y="17.5" font-family="Liberation Sans,sans-serif" font-size="7px" font-weight="bold" fill="#3a3a3a">E</text>
<!-- fib F -->
<g fill="#3a3a3a" shape-rendering="crispEdges">
<rect x="772" y="2" width="1" height="1"/><rect x="774" y="2" width="1" height="1"/><rect x="776" y="2" width="1" height="1"/><rect x="778" y="2" width="1" height="1"/><rect x="780" y="2" width="1" height="1"/><rect x="782" y="2" width="1" height="1"/><rect x="784" y="2" width="1" height="1"/>
<rect x="772" y="5" width="1" height="1"/><rect x="774" y="5" width="1" height="1"/><rect x="776" y="5" width="1" height="1"/><rect x="778" y="5" width="1" height="1"/><rect x="780" y="5" width="1" height="1"/><rect x="782" y="5" width="1" height="1"/><rect x="784" y="5" width="1" height="1"/>
<rect x="772" y="9" width="1" height="1"/><rect x="774" y="9" width="1" height="1"/><rect x="776" y="9" width="1" height="1"/><rect x="778" y="9" width="1" height="1"/><rect x="780" y="9" width="1" height="1"/><rect x="782" y="9" width="1" height="1"/><rect x="784" y="9" width="1" height="1"/>
<rect x="772" y="13" width="1" height="1"/><rect x="774" y="13" width="1" height="1"/><rect x="776" y="13" width="1" height="1"/><rect x="778" y="13" width="1" height="1"/><rect x="780" y="13" width="1" height="1"/>
</g>
<text x="782" y="18" font-family="Liberation Sans,sans-serif" font-size="7px" font-weight="bold" fill="#3a3a3a">F</text>
<!-- text A -->
<text x="802.3" y="14" font-family="DejaVu Sans,sans-serif" font-size="11.5px" fill="#4a4a4a">A</text>
<!-- label T -->
<rect x="829.5" y="3.5" width="11" height="12" fill="none" stroke="#404040" stroke-width="1" stroke-dasharray="1,1"/>
<text x="831.3" y="14" font-family="Liberation Sans,sans-serif" font-size="11.5px" font-weight="bold" fill="#505050">T</text>
<!-- arrows icon -->
<polygon points="859.5,2.5 863,5.5 859.5,8.5 856,5.5" fill="#404040"/>
<polyline points="858,8.5 861,11.5 866.5,6" fill="none" stroke="#404040" stroke-width="1.4"/>
<polygon points="867.5,9.5 871,12.5 867.5,15.5 864,12.5" fill="#404040"/>

<!-- CJK texts -->
<text x="6.3" y="12.6" font-family="'Liberation Sans','Noto Sans CJK SC','WenQuanYi Zen Hei',sans-serif" font-size="12.4px" fill="#000">新订单</text>
<text x="159.3" y="12.5" font-family="'Liberation Sans','Noto Sans CJK SC','WenQuanYi Zen Hei',sans-serif" font-size="12px" fill="#000">自动交易</text>
<!-- timeframes -->
<g font-family="DejaVu Sans,sans-serif" font-size="9.5px" fill="#3a3a3a">
<text transform="translate(903.3,13) scale(1.09,1)">M1</text><text transform="translate(930.9,13) scale(1.0,1)">M5</text><text transform="translate(957.3,13) scale(0.97,1)">M15</text><text transform="translate(984.8,13) scale(0.92,1)">M30</text><text transform="translate(1016.0,13) scale(1.0,1)">H1</text><text transform="translate(1043.2,13) scale(1.05,1)">H4</text><text transform="translate(1072.0,13) scale(1.1,1)">D1</text><text transform="translate(1099.5,13) scale(1.04,1)">W1</text><text transform="translate(1126.0,13) scale(1.1,1)">MN</text>
</g>
<!-- search -->
<circle cx="1619.4" cy="6.2" r="3.6" fill="none" stroke="#2a5cd0" stroke-width="1.3"/>
<line x1="1616.6" y1="9.2" x2="1612.2" y2="13.6" stroke="#2a5cd0" stroke-width="2"/>
<!-- notification -->
<ellipse cx="1642" cy="11.5" rx="5.5" ry="4.5" fill="#dcdce4" stroke="#c8c8d0" stroke-width="1"/>
<polygon points="1639,14.5 1641,14.5 1639.5,17.5" fill="#c8c8d0"/>
<circle cx="1650.6" cy="7" r="8" fill="url(#redc)"/>
<text x="1650.8" y="11.2" text-anchor="middle" font-family="Liberation Sans,sans-serif" font-size="11px" fill="#fff">1</text>
</svg>
</div>

</body></html>
